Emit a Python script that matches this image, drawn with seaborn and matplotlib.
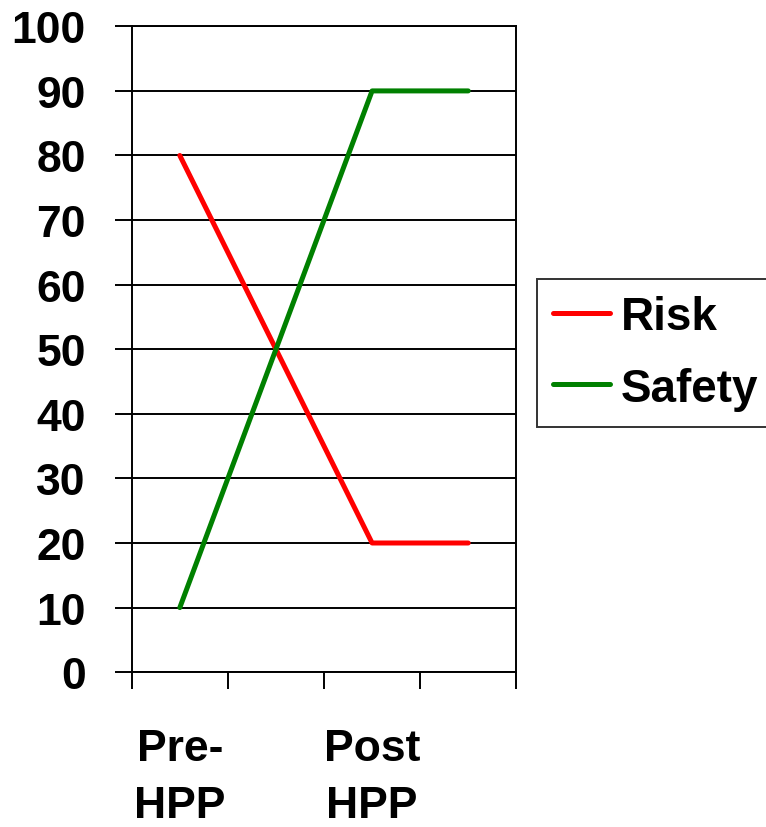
import pandas as pd
import numpy as np
import matplotlib
matplotlib.use('Agg')
import matplotlib.pyplot as plt
import seaborn as sns

sns.set_style('white')
plt.rcParams['font.family'] = ['Liberation Sans', 'DejaVu Sans']
plt.rcParams['font.weight'] = 'bold'
plt.rcParams['text.color'] = 'black'
plt.rcParams['xtick.color'] = 'black'
plt.rcParams['ytick.color'] = 'black'
plt.rcParams['xtick.labelcolor'] = 'black'
plt.rcParams['ytick.labelcolor'] = 'black'

# data
stages = [0, 1, 2, 3]
stage_labels = ['Pre-\nHPP', '', 'Post\nHPP', '']
risk = [80, 50, 20, 20]
safety = [10, 50, 90, 90]

df = pd.DataFrame({
    'stage': stages * 2,
    'value': risk + safety,
    'series': ['Risk'] * 4 + ['Safety'] * 4,
})

fig = plt.figure(figsize=(7.66, 8.28), dpi=100)
ax = fig.add_axes([0.172, 0.187, 0.502, 0.780])

sns.lineplot(data=df, x='stage', y='value', hue='series', sort=False,
             palette={'Risk': '#ff0000', 'Safety': '#008000'},
             linewidth=3.6, ax=ax, solid_capstyle='round')

ax.set_xlim(-0.5, 3.5)
ax.set_ylim(0, 100)
ax.set_yticks(np.arange(0, 101, 10))
ax.yaxis.grid(True, color='black', linewidth=1.4)
ax.set_axisbelow(True)

# category boundaries as major ticks, labels on category centres
ax.set_xticks(np.arange(-0.5, 3.6, 1.0))
ax.set_xticklabels([])
ax.set_xticks(stages, minor=True)
ax.set_xticklabels(stage_labels, minor=True, fontsize=32, fontweight='bold',
                   linespacing=1.5, color='black')
ax.tick_params(axis='x', which='major', direction='out', length=12, width=1.4,
               color='black', bottom=True)
ax.tick_params(axis='x', which='minor', length=0, pad=40)
ax.tick_params(axis='y', direction='out', length=12, width=1.4, color='black',
               left=True, labelsize=32, pad=21, labelcolor='black')
for lab in ax.get_yticklabels():
    lab.set_fontweight('bold')

for side in ['left', 'bottom', 'top', 'right']:
    ax.spines[side].set_visible(True)
    ax.spines[side].set_color('black')
    ax.spines[side].set_linewidth(1.4)

ax.set_xlabel('')
ax.set_ylabel('')

handles, labels = ax.get_legend_handles_labels()
ax.legend_.remove()
leg = fig.legend(handles, labels, loc='upper left',
                 bbox_to_anchor=(537 / 766, 1 - 280 / 828),
                 fontsize=33, frameon=True, fancybox=False, edgecolor='black',
                 handlelength=1.25, handletextpad=0.22, borderpad=0.35,
                 labelspacing=0.6, borderaxespad=0)
leg.get_frame().set_linewidth(1.4)
for t in leg.get_texts():
    t.set_fontweight('bold')
    t.set_color('black')
for h in leg.get_lines():
    h.set_linewidth(3.6)

fig.savefig('out.png', dpi=100)
